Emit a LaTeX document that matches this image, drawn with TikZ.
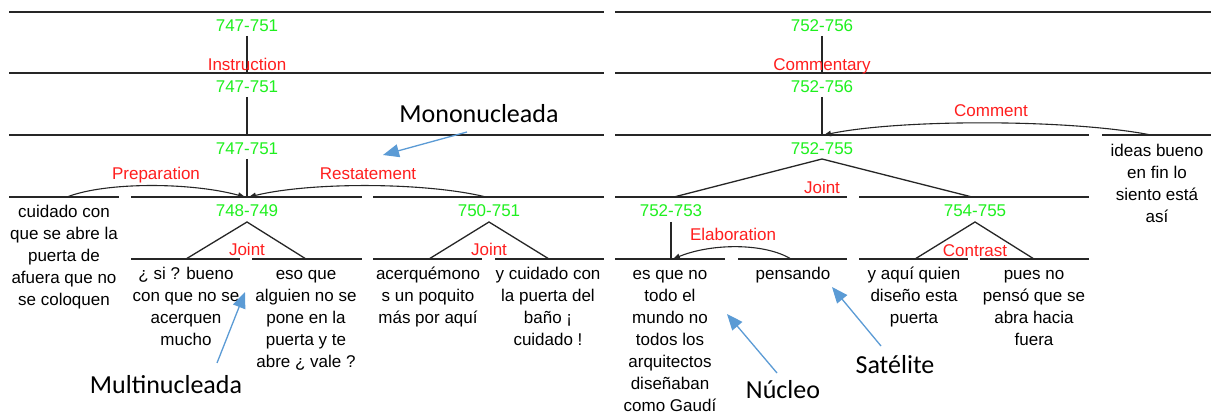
\documentclass[tikz,border=0pt]{standalone}
\usepackage{fontspec}
\setmainfont{Liberation Sans}
\newfontfamily\annofont{Carlito}
\usetikzlibrary{arrows.meta}
\definecolor{grn}{RGB}{30,240,30}
\definecolor{rd}{RGB}{255,30,30}
\definecolor{annoblue}{RGB}{91,155,213}
\tikzset{
  span/.style={line width=1.3pt, draw=black!85},
  grnlab/.style={text=grn, font=\fontsize{17}{22}\selectfont, inner sep=0pt, anchor=base},
  rellab/.style={text=rd, font=\fontsize{17}{22}\selectfont, inner sep=0pt, anchor=base},
  txt/.style={font=\fontsize{17}{22}\selectfont, align=center, inner sep=0pt, anchor=north},
  annolab/.style={font=\annofont\fontsize{26}{30}\selectfont, inner sep=0pt, anchor=base},
  rstarc/.style={line width=1.1pt, draw=black!85, -{Triangle[length=7pt,width=5.5pt]}},
  bluearrow/.style={line width=1.3pt, draw=annoblue, -{Triangle[length=16pt,width=13pt,fill=annoblue]}}
}
\begin{document}
\begin{tikzpicture}[x=1pt,y=-1pt]
\useasboundingbox (0,0) rectangle (1211,414);
\fill[white] (0,0) rectangle (1211,414);

% ---------- span lines ----------
\draw[span] (9,12) -- (604,12);   \draw[span] (615,12) -- (1211,12);
\draw[span] (9,73) -- (604,73);   \draw[span] (615,73) -- (1211,73);
\draw[span] (9,135) -- (604,135); \draw[span] (615,135) -- (1089,135); \draw[span] (1102,135) -- (1211,135);
\draw[span] (9,197) -- (119,197); \draw[span] (131,197) -- (362,197); \draw[span] (373,197) -- (604,197);
\draw[span] (615,197) -- (847,197); \draw[span] (859,197) -- (1089,197);
\draw[span] (131,259) -- (240,259); \draw[span] (252,259) -- (362,259);
\draw[span] (373,259) -- (482,259); \draw[span] (495,259) -- (604,259);
\draw[span] (615,259) -- (725,259); \draw[span] (738,259) -- (847,259);
\draw[span] (859,259) -- (968,259); \draw[span] (980,259) -- (1089,259);

% ---------- green span labels ----------
\node[grnlab] (gA1) at (247,32) {747-751};
\node[grnlab] (gA2) at (247,93) {747-751};
\node[grnlab] (gA3) at (247,155) {747-751};
\node[grnlab] (gA4) at (247,217) {748-749};
\node[grnlab] (gA5) at (489,217) {750-751};
\node[grnlab] (gB1) at (822,32) {752-756};
\node[grnlab] (gB2) at (822,93) {752-756};
\node[grnlab] (gB3) at (822,155) {752-755};
\node[grnlab] (gB4) at (671,217) {752-753};
\node[grnlab] (gB5) at (975,217) {754-755};

% ---------- coordinates ----------
\coordinate (a1) at (247,36);  \coordinate (a1e) at (247,73);
\coordinate (a2) at (247,97);  \coordinate (a2e) at (247,135);
\coordinate (a3) at (247,159); \coordinate (a3e) at (247,197);
\coordinate (b1) at (822,36);  \coordinate (b1e) at (822,73);
\coordinate (b2) at (822,97);  \coordinate (b2e) at (822,135);
\coordinate (b4) at (671,222); \coordinate (b4e) at (671,259);

% ---------- verticals ----------
\draw[span] (a1) -- (a1e);
\draw[span] (a2) -- (a2e);
\draw[span] (a3) -- (a3e);
\draw[span] (b1) -- (b1e);
\draw[span] (b2) -- (b2e);
\draw[span] (b4) -- (b4e);

% ---------- multinuclear triangles ----------
\draw[span] (186,259) -- (247,222) -- (306,259);
\draw[span] (429,259) -- (489,222) -- (549,259);
\draw[span] (674,197) -- (822,159) -- (972,197);
\draw[span] (915,259) -- (975,222) -- (1034,259);

% ---------- relation labels ----------
\node[rellab] (rInstr) at (247,71) {Instruction};
\node[rellab] (rComm) at (822,71) {Commentary};
\node[rellab] (rPrep) at (156,180) {Preparation};
\node[rellab] (rRest) at (368,180) {Restatement};
\node[rellab] (rCmt) at (991,117) {Comment};
\node[rellab] (rJ1) at (822,194) {Joint};
\node[rellab] (rJ2) at (247,256) {Joint};
\node[rellab] (rJ3) at (489,256) {Joint};
\node[rellab] (rElab) at (733,241) {Elaboration};
\node[rellab] (rContr) at (975,257) {Contrast};

% ---------- RST arcs ----------
\coordinate (pS) at (67,197);   \coordinate (pN) at (245,197);
\coordinate (rS) at (486,197);  \coordinate (rN) at (249,197);
\coordinate (cS) at (1151,135); \coordinate (cN) at (824,135);
\coordinate (eS) at (791,259);  \coordinate (eN) at (673,259);
\draw[rstarc] (pS) .. controls (105,182) and (190,182) .. (pN);
\draw[rstarc] (rS) .. controls (425,182) and (310,182) .. (rN);
\draw[rstarc] (cS) .. controls (1070,119) and (900,119) .. (cN);
\draw[rstarc] (eS) .. controls (765,243) and (712,243) .. (eN);

% ---------- text segments ----------
\node[txt] (t1) at (64,201.6) {\strut cuidado con\\que se abre la\\puerta de\\afuera que no\\se coloquen};
\node[txt] (t2) at (186,263.6) {\strut ¿ si ? bueno\\con que no se\\acerquen\\mucho};
\node[txt] (t3) at (306,263.6) {\strut eso que\\alguien no se\\pone en la\\puerta y te\\abre ¿ vale ?};
\node[txt] (t4) at (428,263.6) {\strut acerquémono\\s un poquito\\más por aquí};
\node[txt] (t5) at (548,263.6) {\strut y cuidado con\\la puerta del\\baño ¡\\cuidado !};
\node[txt] (t6) at (670,263.6) {\strut es que no\\todo el\\mundo no\\todos los\\arquitectos\\diseñaban\\como Gaudí};
\node[txt] (t7) at (793,263.6) {\strut pensando};
\node[txt] (t8) at (914,263.6) {\strut y aquí quien\\diseño esta\\puerta};
\node[txt] (t9) at (1034,263.6) {\strut pues no\\pensó que se\\abra hacia\\fuera};
\node[txt] (t10) at (1157,140.6) {\strut ideas bueno\\en fin lo\\siento está\\así};

% ---------- annotations ----------
\node[annolab] (mono) at (479,123) {Mononucleada};
\node[annolab] (multi) at (166,393) {Multinucleada};
\node[annolab] (nuc) at (783,398) {Núcleo};
\node[annolab] (sat) at (895,373) {Satélite};
\coordinate (monoT) at (467,132);  \coordinate (monoH) at (383,155);
\coordinate (multiT) at (217,363); \coordinate (multiH) at (245,292);
\coordinate (nucT) at (777,373);   \coordinate (nucH) at (727,314);
\coordinate (satT) at (881,346);   \coordinate (satH) at (832,287);
\draw[bluearrow] (monoT) -- (monoH);
\draw[bluearrow] (multiT) -- (multiH);
\draw[bluearrow] (nucT) -- (nucH);
\draw[bluearrow] (satT) -- (satH);
\end{tikzpicture}
\end{document}
